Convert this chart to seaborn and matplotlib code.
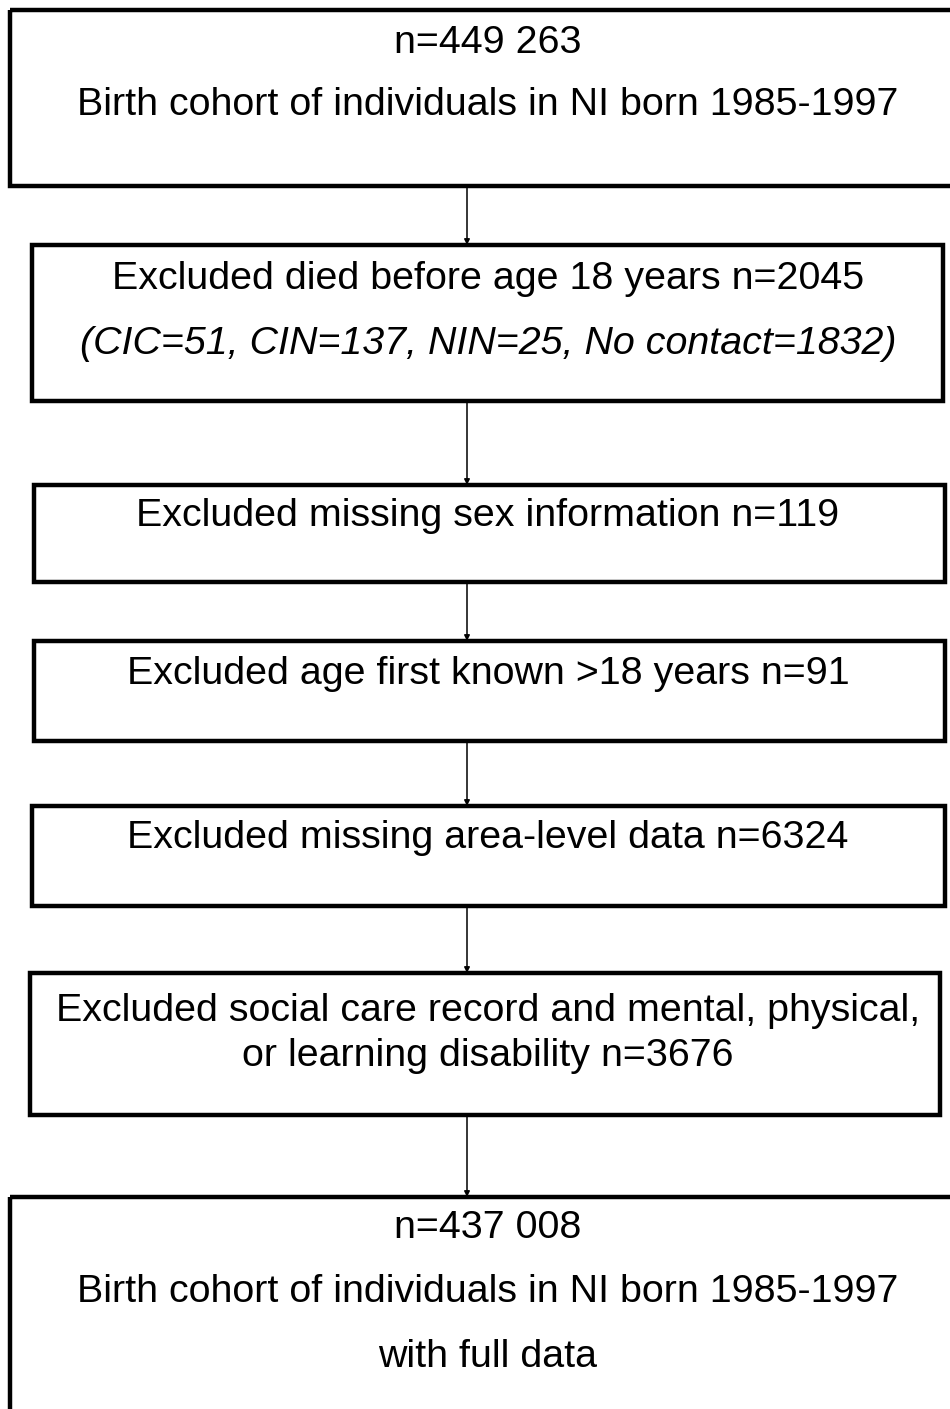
import seaborn as sns
import matplotlib.pyplot as plt
from matplotlib.patches import Rectangle

sns.set_theme(style="white")
plt.rcParams['font.family'] = ['Liberation Sans', 'DejaVu Sans']

# box texts, top to bottom
line1 = ["n=449 263",
         "Excluded died before age 18 years n=2045",
         "Excluded missing sex information n=119",
         "Excluded age first known >18 years n=91",
         "Excluded missing area-level data n=6324",
         "Excluded social care record and mental, physical,",
         "n=437 008"]
line2 = ["Birth cohort of individuals in NI born 1985-1997",
         "(CIC=51, CIN=137, NIN=25, No contact=1832)",
         "", "", "",
         "or learning disability n=3676",
         "Birth cohort of individuals in NI born 1985-1997"]
line3 = ["", "", "", "", "", "", "with full data"]
italic2 = [False, True, False, False, False, False, False]

# layout in pixels (y down)
box_left = [10, 32, 34, 34, 32, 30, 10]
box_right = [966, 943, 945, 945, 945, 940, 966]
box_top = [10, 245, 485, 641, 806, 973, 1197]
box_bottom = [186, 401, 582, 741, 906, 1115, 1440]
text_y = [[43, 105], [279, 344], [516], [674], [838], [1011, 1056], [1228, 1292, 1357]]
cx = 488

fig = plt.figure(figsize=(9.5, 14.09), dpi=100)
ax = fig.add_axes([0, 0, 1, 1])
ax.set_xlim(0, 950)
ax.set_ylim(1409, 0)
ax.axis('off')

for i in range(len(line1)):
    ax.add_patch(Rectangle((box_left[i], box_top[i]), box_right[i] - box_left[i],
                           box_bottom[i] - box_top[i], fill=False, lw=3.2,
                           edgecolor='black', zorder=2))
    texts = [line1[i], line2[i], line3[i]]
    for j, y in enumerate(text_y[i]):
        ax.text(cx, y, texts[j], ha='center', va='center', fontsize=28.4,
                color='black', style='italic' if (j == 1 and italic2[i]) else 'normal')
    if i < len(line1) - 1:
        ax.annotate("", xy=(467, box_top[i + 1]), xytext=(467, box_bottom[i]),
                    arrowprops=dict(arrowstyle='-|>', color='black', lw=1.1,
                                    mutation_scale=8, shrinkA=0, shrinkB=0))

fig.savefig("out.png", dpi=100)
